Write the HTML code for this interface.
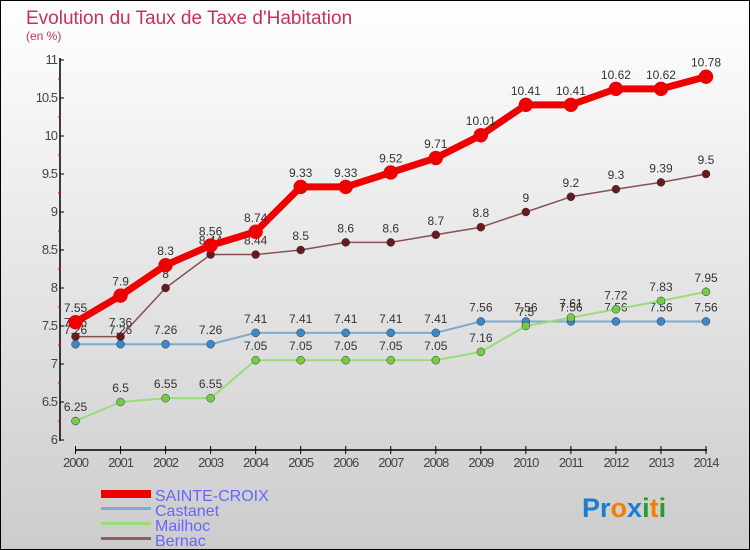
<!DOCTYPE html>
<html><head><meta charset="utf-8"><style>
body{margin:0}
#c{width:750px;height:550px;position:relative;box-sizing:border-box;border:1px solid #000;background:linear-gradient(#fff,#ccc);font-family:"Liberation Sans",sans-serif;overflow:hidden}
</style></head><body>
<div id="c">
<svg id="s" width="750" height="550" style="position:absolute;left:-1px;top:-1px">
<text x="26" y="24" font-size="19" fill="#c8305a">Evolution du Taux de Taxe d'Habitation</text>
<text x="26" y="40" font-size="12" fill="#c8305a">(en %)</text>
<g id="g"></g>
<g>
<rect x="101" y="490" width="50" height="8" fill="#e00"/>
<text x="155" y="501" font-size="16" fill="#6666ff">SAINTE-CROIX</text>
<rect x="101" y="507" width="50" height="3" fill="#7aaad0"/>
<text x="155" y="516" font-size="16" fill="#6666ff">Castanet</text>
<rect x="101" y="522" width="50" height="3" fill="#99dd77"/>
<text x="155" y="531" font-size="16" fill="#6666ff">Mailhoc</text>
<rect x="101" y="537" width="50" height="3" fill="#8a6060"/>
<text x="155" y="546" font-size="16" fill="#6666ff">Bernac</text>
</g>
<text x="582" y="517" font-size="27" font-weight="bold"><tspan fill="#1a7fd0">Pr</tspan><tspan fill="#f08000">o</tspan><tspan fill="#1a7fd0">x</tspan><tspan fill="#2a9a30">i</tspan><tspan fill="#f08000">t</tspan><tspan fill="#2a9a30">i</tspan></text>
</svg>
</div>
<script>
const years=[2000,2001,2002,2003,2004,2005,2006,2007,2008,2009,2010,2011,2012,2013,2014];
const sainteCroix=[7.55,7.9,8.3,8.56,8.74,9.33,9.33,9.52,9.71,10.01,10.41,10.41,10.62,10.62,10.78];
const castanet=[7.26,7.26,7.26,7.26,7.41,7.41,7.41,7.41,7.41,7.56,7.56,7.56,7.56,7.56,7.56];
const mailhoc=[6.25,6.5,6.55,6.55,7.05,7.05,7.05,7.05,7.05,7.16,7.5,7.61,7.72,7.83,7.95];
const bernac=[7.36,7.36,8,8.44,8.44,8.5,8.6,8.6,8.7,8.8,9,9.2,9.3,9.39,9.5];
const yTicks=[6,6.5,7,7.5,8,8.5,9,9.5,10,10.5,11];
const NS="http://www.w3.org/2000/svg",g=document.getElementById('g');
const X=i=>75.5+i*(706-75.5)/(years.length-1);
const Y=v=>440-(v-6)*76;
function el(t,a,p){const e=document.createElementNS(NS,t);for(const k in a)e.setAttribute(k,a[k]);(p||g).appendChild(e);return e;}
let e=el('line',{x1:60,y1:58,x2:60,y2:441,stroke:'#000','stroke-width':1.5});

e=el('line',{x1:75,y1:450,x2:707,y2:450,stroke:'#000','stroke-width':1.5});

yTicks.forEach((v,i)=>{
 el('line',{x1:60,y1:Y(v),x2:64,y2:Y(v),stroke:'#000'});
 if(i<yTicks.length-1)el('line',{x1:58,y1:Y(v+0.25),x2:61,y2:Y(v+0.25),stroke:'#e00'});
 const t=el('text',{x:57,y:Y(v)+4,'font-size':13,fill:'#444','text-anchor':'end','letter-spacing':'-1'});
 t.textContent=String(v);
 
});
years.forEach((yr,i)=>{
 el('line',{x1:X(i),y1:446,x2:X(i),y2:454,stroke:'#000'});
 const t=el('text',{x:X(i),y:467,'font-size':13,fill:'#444','text-anchor':'middle','letter-spacing':'-1'});
 t.textContent=yr;
 
});
function series(name,data,color,dot,lw,r){
 const sg=el('g',{});
 
 el('polyline',{points:data.map((v,i)=>X(i)+','+Y(v)).join(' '),fill:'none',stroke:color,'stroke-width':lw,'stroke-linejoin':'round'},sg);
 data.forEach((v,i)=>{
  const c=el('circle',{cx:X(i),cy:Y(v),r:r,fill:dot,stroke:color==='#e00'?'#e00':'#335','stroke-width':0.5},sg);
  
  const t=el('text',{x:X(i),y:Y(v)-10,'font-size':12,fill:'#333','text-anchor':'middle'},sg);
  t.textContent=String(v);
  
 });
}
series('castanet',castanet,'#7aaad0','#3a88c8',2,4);
series('mailhoc',mailhoc,'#99dd77','#77cc44',2,4);
series('bernac',bernac,'#8a5050','#6a1a1a',1.5,4);
series('sainte-croix',sainteCroix,'#e00','#e00',7,7);
</script>
</body></html>
